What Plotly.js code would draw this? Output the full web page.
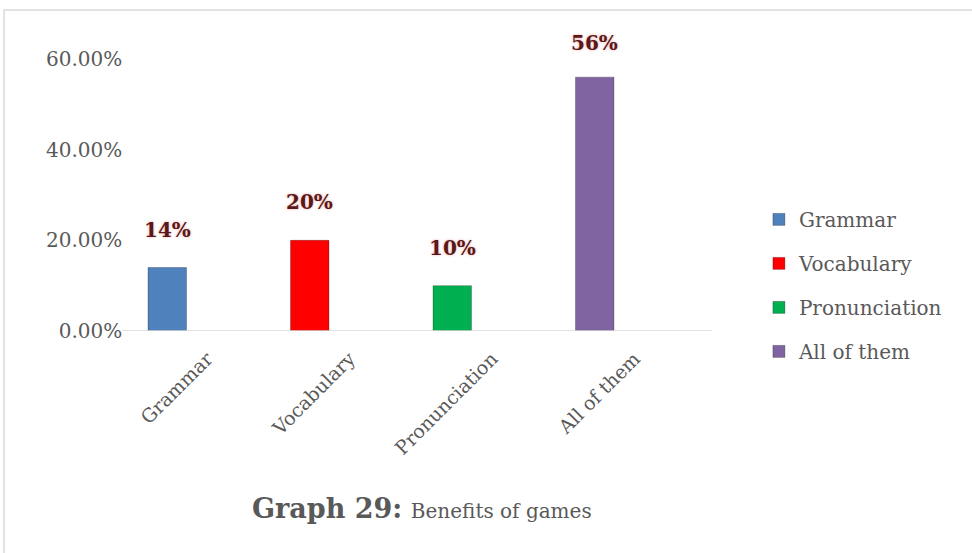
<!DOCTYPE html>
<html><head><meta charset="utf-8">
<script src="https://cdn.plot.ly/plotly-3.0.1.min.js"></script>
<style>html,body{margin:0;padding:0;background:#fff}#c{width:972px;height:553px}</style>
</head><body><div id="c"></div>
<script>
const categories = ["Grammar", "Vocabulary", "Pronunciation", "All of them"];
const values = [0.14, 0.20, 0.10, 0.56];
const labels = ["14%", "20%", "10%", "56%"];
const colors = ["#4f81bd", "#ff0000", "#00b050", "#8064a2"];
const yTicks = [0, 0.2, 0.4, 0.6];

const FONT = "DejaVu Serif";
const traces = categories.map((c, i) => ({
  type: "bar", x: [c], y: [values[i]], name: c, width: 0.27,
  marker: {color: colors[i], line: {color: "rgba(0,0,0,0.25)", width: 1}},
  legendgroup: "g" + i, hoverinfo: "skip"
}));
traces.push({type: "scatter", mode: "markers", x: categories, y: categories.map(() => 0),
  xaxis: "x2", marker: {opacity: 0}, showlegend: false, hoverinfo: "skip"});

const annotations = categories.map((c, i) => ({
  x: c, y: values[i], xref: "x", yref: "y", text: labels[i], showarrow: false,
  yanchor: "bottom", yshift: i === 3 ? 20 : 24,
  font: {family: FONT, size: 20, color: "#5a1818", weight: 600, shadow: "0 0 3px #f0a8a8"}
}));

const layout = {
  width: 972, height: 553,
  margin: {l: 96, r: 306, t: 59, b: 222},
  paper_bgcolor: "#fff", plot_bgcolor: "rgba(0,0,0,0)",
  barmode: "overlay",
  showlegend: true,
  legend: {x: 1.163, y: 0.482, xanchor: "left", yanchor: "top", tracegroupgap: 15,
    font: {family: FONT, size: 20, color: "#595959"}, itemwidth: 30},
  xaxis: {type: "category", range: [-0.5, 3.5], showticklabels: false, showgrid: false,
    zeroline: false, showline: false, ticks: "", fixedrange: true},
  xaxis2: {type: "category", overlaying: "x", anchor: "y", side: "bottom",
    range: [-0.78, 3.22], tickangle: -45, showgrid: false, zeroline: false, showline: false,
    ticks: "", ticklabelstandoff: 12,
    tickfont: {family: FONT, size: 19, color: "#595959"}},
  yaxis: {range: [0, 0.6], tickvals: yTicks, tickformat: ".2%", showgrid: false,
    zeroline: false, showline: false, ticks: "", anchor: "free", position: 0.046,
    tickfont: {family: FONT, size: 20, color: "#595959"}},
  shapes: [
    {type: "line", xref: "paper", yref: "y", x0: 0.046, x1: 1.08, y0: 0, y1: 0,
      line: {color: "#d9d9d9", width: 1.5}},
    {type: "rect", xref: "paper", yref: "paper", x0: -0.1614, x1: 1.56, y0: -0.85, y1: 1.18,
      line: {color: "#d9d9d9", width: 1.5}}
  ],
  annotations: annotations,
  title: {text: "<b>Graph 29:</b> <span style='font-size:20px;font-weight:normal'>Benefits of games</span>",
    x: 0.434, xanchor: "center", y: 0.08, yanchor: "middle", yref: "container",
    font: {family: FONT, size: 27, color: "#595959"}}
};
Plotly.newPlot("c", traces, layout, {displayModeBar: false, staticPlot: true});
</script></body></html>
